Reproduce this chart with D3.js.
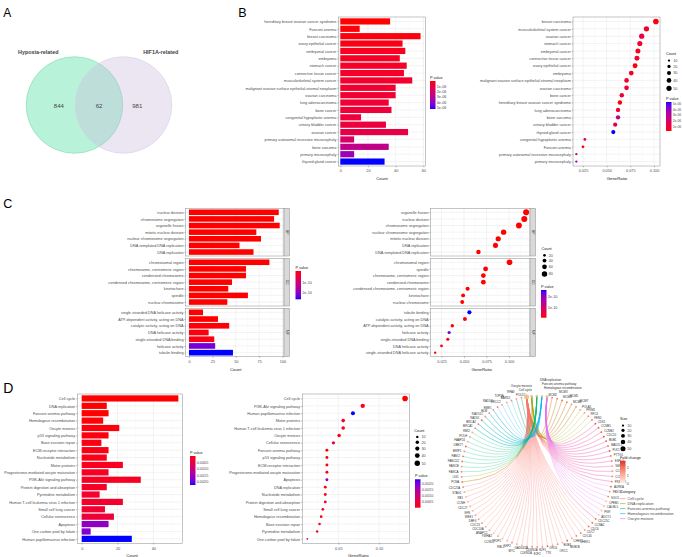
<!DOCTYPE html>
<html>
<head>
<meta charset="utf-8">
<script src="https://cdn.jsdelivr.net/npm/d3@7.9.0/dist/d3.min.js"></script>
<style>
  body { margin: 0; background: #fff; }
  svg { display: block; font-family: "Liberation Sans", Arial, sans-serif; }
</style>
</head>
<body>
<svg id="fig" width="682" height="557"></svg>
<script>
// ---------- data ----------
// A: venn
const vennSets = ['Hypoxia-related', 'HIF1A-related'];
const vennRegions = [844, 62, 981];

// B: disease ontology enrichment
const bTerms = [
  'hereditary breast ovarian cancer syndrome', 'Fanconi anemia', 'breast carcinoma',
  'ovary epithelial cancer', 'embryonal cancer', 'embryoma', 'stomach cancer',
  'connective tissue cancer', 'musculoskeletal system cancer',
  'malignant ovarian surface epithelial-stromal neoplasm', 'ovarian carcinoma',
  'lung adenocarcinoma', 'bone cancer', 'congenital hypoplastic anemia',
  'urinary bladder cancer', 'ovarian cancer', 'primary autosomal recessive microcephaly',
  'bone sarcoma', 'primary microcephaly', 'thyroid gland cancer'
];
const bCounts = [36, 14, 58, 45, 47, 43, 48, 46, 52, 40, 40, 35, 37, 15, 33, 49, 10, 35, 10, 32];
const bGeneRatio = [0.064, 0.025, 0.102, 0.080, 0.083, 0.076, 0.085, 0.082, 0.092, 0.071,
  0.071, 0.062, 0.066, 0.027, 0.059, 0.087, 0.018, 0.062, 0.018, 0.057];
const bPvalue = [1.0e-7, 1.6e-7, 2.2e-7, 3.0e-7, 4.8e-7, 5.4e-7, 5.9e-7, 6.4e-7, 6.9e-7, 7.4e-7,
  7.8e-7, 8.3e-7, 8.9e-7, 9.6e-7, 1.05e-6, 1.2e-6, 1.9e-6, 2.7e-6, 3.7e-6, 5.3e-6];
const bPTicks = [1e-6, 2e-6, 3e-6, 4e-6, 5e-6];

// C: GO enrichment, three ontologies
const goOntologies = ['BP', 'CC', 'MF'];
const cBPTerms = ['nuclear division', 'chromosome segregation', 'organelle fission',
  'mitotic nuclear division', 'nuclear chromosome segregation',
  'DNA-templated DNA replication', 'DNA replication'];
const cBPCounts = [96, 91, 97, 72, 77, 54, 69];
const cBPRatio = [0.117, 0.111, 0.119, 0.088, 0.094, 0.066, 0.085];
const cBPPvalue = [1e-30, 2e-29, 3e-28, 5e-26, 8e-26, 2e-22, 4e-22];
const cCCTerms = ['chromosomal region', 'chromosome, centromeric region', 'condensed chromosome',
  'condensed chromosome, centromeric region', 'kinetochore', 'spindle', 'nuclear chromosome'];
const cCCCounts = [86, 61, 61, 46, 42, 63, 41];
const cCCRatio = [0.1006, 0.0715, 0.0715, 0.054, 0.049, 0.074, 0.048];
const cCCPvalue = [1e-25, 3e-20, 5e-20, 2e-18, 6e-17, 8e-17, 1e-15];
const cMFTerms = ['single-stranded DNA helicase activity', 'ATP-dependent activity, acting on DNA',
  'catalytic activity, acting on DNA', 'DNA helicase activity', 'single-stranded DNA binding',
  'helicase activity', 'tubulin binding'];
const cMFCounts = [15, 31, 43, 21, 27, 28, 47];
const cMFRatio = [0.018, 0.037, 0.051, 0.025, 0.032, 0.0335, 0.056];
const cMFPvalue = [2e-13, 1e-12, 3e-12, 6e-12, 1e-11, 2.2e-10, 2.62e-10];
const cPTicks = [1e-10, 2e-10];

// D: KEGG enrichment
const dTerms = ['Cell cycle', 'DNA replication', 'Fanconi anemia pathway', 'Homologous recombination',
  'Oocyte meiosis', 'p53 signaling pathway', 'Base excision repair', 'ECM-receptor interaction',
  'Nucleotide metabolism', 'Motor proteins', 'Progesterone-mediated oocyte maturation',
  'PI3K-Akt signaling pathway', 'Protein digestion and absorption', 'Pyrimidine metabolism',
  'Human T-cell leukemia virus 1 infection', 'Small cell lung cancer', 'Cellular senescence',
  'Apoptosis', 'One carbon pool by folate', 'Human papillomavirus infection'];
const dCounts = [54, 14, 15, 12, 21, 15, 11, 15, 14, 23, 15, 33, 14, 10, 23, 13, 18, 15, 5, 28];
const dGeneRatio = [0.132, 0.034, 0.036, 0.029, 0.051, 0.036, 0.027, 0.036, 0.034, 0.056,
  0.036, 0.080, 0.034, 0.024, 0.056, 0.031, 0.044, 0.036, 0.012, 0.068];
const dPvalue = [1e-9, 2e-6, 5e-6, 2e-5, 4e-5, 6e-5, 8e-5, 1e-4, 1.2e-4, 1.4e-4, 1.6e-4,
  1.8e-4, 2.0e-4, 2.3e-4, 2.6e-4, 3.0e-4, 3.5e-4, 1.73e-3, 1.84e-3, 2.3e-3];
const dPTicks = [0.0005, 0.0010, 0.0015, 0.0020];

// D: gene-concept network
const cnetCategories = ['Cell cycle', 'DNA replication', 'Fanconi anemia pathway',
  'Homologous recombination', 'Oocyte meiosis'];
const cnetCategorySize = [54, 14, 15, 12, 21];
const cnetCategoryColors = ['#F8766D', '#A3A500', '#00BF7D', '#00B0F6', '#E76BF3'];
const cnetGenes = ['MCM2', 'MCM3', 'MCM4', 'MCM5', 'MCM6', 'MCM7', 'POLA1', 'PRIM1', 'RFC4', 'FEN1',
  'CDK1', 'CCNB1', 'CCNB2', 'CDC20', 'BUB1', 'MAD2L1', 'PLK1', 'PTTG1', 'ESPL1', 'SMC1B',
  'CCNE1', 'CCNE2', 'PKMYT1', 'AURKA', 'FBXO5', 'SGO1', 'CPEB1', 'CALML5', 'PGR', 'ADCY1',
  'CDC25C', 'CCNA2', 'CDC6', 'CDC7', 'CDC45', 'CHEK1', 'CHEK2', 'BUB1B', 'BUB3', 'ORC1',
  'ORC6', 'TTK', 'E2F1', 'E2F2', 'CDKN2A', 'CDKN1A', 'GADD45A', 'MYC', 'SKP2', 'RBL1',
  'TFDP1', 'CCND1', 'YWHAZ', 'ANAPC1', 'CDC14A', 'CDC23', 'DBF4', 'WEE1', 'SFN', 'CDC27',
  'CCNH', 'RB1', 'STAG1', 'CDC25A', 'PCNA', 'LIG1', 'FANCA', 'FANCB', 'FANCD2', 'FANCI',
  'BRIP1', 'UBE2T', 'FAAP24', 'POLH', 'RMI2', 'BRCA1', 'BRCA2', 'RAD51', 'RAD51C', 'BLM',
  'EME1', 'RAD54L', 'XRCC2', 'TOP3A', 'BARD1', 'RPA3', 'POLD1'];
// membership codes: C cell cycle, D DNA replication, F Fanconi, H homologous recomb., O oocyte meiosis
const cnetGeneCats = ['CD', 'CD', 'CD', 'CD', 'CD', 'CD', 'D', 'D', 'D', 'D',
  'CO', 'CO', 'CO', 'CO', 'CO', 'CO', 'CO', 'CO', 'CO', 'CO',
  'CO', 'CO', 'CO', 'O', 'O', 'O', 'O', 'O', 'O', 'O',
  'CO', 'C', 'C', 'C', 'C', 'C', 'C', 'C', 'C', 'C',
  'C', 'C', 'C', 'C', 'C', 'C', 'C', 'C', 'C', 'C',
  'C', 'C', 'C', 'C', 'C', 'C', 'C', 'C', 'C', 'C',
  'C', 'C', 'C', 'C', 'CD', 'D', 'F', 'F', 'F', 'F',
  'F', 'F', 'F', 'F', 'F', 'FH', 'FH', 'FH', 'FH', 'FH',
  'FH', 'H', 'H', 'H', 'H', 'DH', 'DH'];
const cnetFoldChange = [1.9, 1.6, 2.1, 1.8, 1.5, 1.7, 1.3, 1.4, 1.6, 2.0,
  2.3, 2.2, 2.4, 2.6, 2.2, 1.9, 2.5, 1.8, 1.7, 1.2,
  1.4, 1.6, 1.9, 2.1, 1.5, 1.8, 0.9, 1.1, 1.0, 0.8,
  2.0, 2.2, 1.9, 1.4, 2.0, 1.8, 1.2, 2.3, 1.1, 1.6,
  1.3, 2.1, 1.7, 1.5, 1.9, 0.9, 1.0, 1.2, 1.6, 1.1,
  1.0, 1.3, 0.8, 1.2, 1.1, 1.4, 1.5, 1.3, 1.0, 1.2,
  1.1, 0.9, 1.3, 1.7, 1.8, 1.5, 1.6, 1.4, 1.9, 2.0,
  1.7, 2.2, 1.1, 1.3, 1.2, 1.6, 1.8, 2.1, 1.5, 1.7,
  1.4, 1.9, 1.3, 1.2, 1.6, 1.4, 1.5];
const sizeBreaks = [10, 20, 30, 40, 50];
const cSizeBreaks = [20, 40, 60, 80];

// ---------- helpers ----------
const FONT = '"Liberation Sans", Arial, sans-serif';
const TXT = 3.8;
const svg = d3.select('#fig');
const defs = svg.append('defs');
let gradCount = 0;

const pColor = (values) => d3.scaleLinear()
  .domain(d3.extent(values))
  .range(['#ff0000', '#0000ff'])
  .interpolate(d3.interpolateLab)
  .clamp(true);

const sci = (d) => d.toExponential(0).replace(/e-(\d)$/, 'e-0$1');

function tidyAxis(sel) {
  sel.attr('font-size', TXT).attr('font-family', FONT);
  sel.select('.domain').remove();
  sel.selectAll('.tick line').attr('stroke', '#333').attr('stroke-width', 0.35);
  sel.selectAll('.tick text').attr('fill', '#4d4d4d');
}

function panelBase(terms, x0, x1, y0, y1, xScale, majors, minors) {
  const y = d3.scalePoint().domain(terms).range([y0, y1]).padding(0.6);
  const g = svg.append('g');
  g.append('rect').attr('x', x0).attr('y', y0).attr('width', x1 - x0).attr('height', y1 - y0).attr('fill', '#fff');
  g.selectAll(null).data(minors).join('line')
    .attr('x1', (d) => xScale(d)).attr('x2', (d) => xScale(d)).attr('y1', y0).attr('y2', y1)
    .attr('stroke', '#f2f2f2').attr('stroke-width', 0.3);
  g.selectAll(null).data(majors).join('line')
    .attr('x1', (d) => xScale(d)).attr('x2', (d) => xScale(d)).attr('y1', y0).attr('y2', y1)
    .attr('stroke', '#e4e4e4').attr('stroke-width', 0.45);
  g.selectAll(null).data(terms).join('line')
    .attr('x1', x0).attr('x2', x1).attr('y1', (d) => y(d)).attr('y2', (d) => y(d))
    .attr('stroke', '#e4e4e4').attr('stroke-width', 0.45);
  g.append('g').attr('transform', `translate(${x0},0)`)
    .call(d3.axisLeft(y).tickSize(1.2).tickPadding(1))
    .call(tidyAxis);
  return { g, y };
}

function frame(x0, y0, x1, y1) {
  svg.append('rect').attr('x', x0).attr('y', y0).attr('width', x1 - x0).attr('height', y1 - y0)
    .attr('fill', 'none').attr('stroke', '#8c8c8c').attr('stroke-width', 0.5);
}

function xAxis(scale, ticks, fmt, yPos, title, titleX) {
  svg.append('g').attr('transform', `translate(0,${yPos})`)
    .call(d3.axisBottom(scale).tickValues(ticks).tickFormat(fmt).tickSize(1.2).tickPadding(2.5))
    .call(tidyAxis);
  svg.append('text').attr('x', titleX).attr('y', yPos + 13.8).attr('text-anchor', 'middle')
    .attr('font-size', 4.3).attr('fill', '#222').text(title);
}

function strip(x, y0, y1, label) {
  svg.append('rect').attr('x', x).attr('y', y0).attr('width', 5.5).attr('height', y1 - y0)
    .attr('fill', '#d9d9d9').attr('stroke', '#8c8c8c').attr('stroke-width', 0.5);
  svg.append('text').attr('transform', `translate(${x + 2.75},${(y0 + y1) / 2}) rotate(90)`)
    .attr('text-anchor', 'middle').attr('dy', '0.35em').attr('font-size', 3.4).attr('fill', '#1a1a1a').text(label);
}

function colorbar(x, top, h, scale, ticks, fmt, title, blueTop, labelSize = TXT) {
  const [lo, hi] = scale.domain();
  const id = `grad${gradCount++}`;
  const grad = defs.append('linearGradient').attr('id', id)
    .attr('x1', 0).attr('x2', 0).attr('y1', 0).attr('y2', 1);
  d3.range(0, 1.0001, 0.05).forEach((t) => {
    const v = blueTop ? hi - t * (hi - lo) : lo + t * (hi - lo);
    grad.append('stop').attr('offset', t).attr('stop-color', scale(v));
  });
  svg.append('text').attr('x', x).attr('y', top - 2.2).attr('font-size', TXT).attr('fill', '#222').text(title);
  svg.append('rect').attr('x', x).attr('y', top).attr('width', 5.5).attr('height', h).attr('fill', `url(#${id})`);
  const pos = d3.scaleLinear().domain(blueTop ? [hi, lo] : [lo, hi]).range([top, top + h]);
  svg.append('g').attr('transform', `translate(${x + 5.5},0)`)
    .call(d3.axisRight(pos).tickValues(ticks).tickFormat(fmt).tickSize(0).tickPadding(1.2))
    .call(tidyAxis)
    .attr('font-size', labelSize);
}

function sizeLegend(x, baseline, title, values, r, gap) {
  svg.append('text').attr('x', x).attr('y', baseline).attr('font-size', TXT).attr('fill', '#222').text(title);
  let cy = baseline + 5.3;
  values.forEach((v, i) => {
    if (i > 0) cy += r(values[i - 1]) + r(v) + gap;
    svg.append('circle').attr('cx', x + 3).attr('cy', cy).attr('r', r(v)).attr('fill', '#000');
    svg.append('text').attr('x', x + 7.2).attr('y', cy).attr('dy', '0.35em')
      .attr('font-size', TXT).attr('fill', '#4d4d4d').text(v);
  });
}

function panelLetter(letter, x, y, size) {
  svg.append('text').attr('x', x).attr('y', y).attr('font-size', size).attr('fill', '#000').text(letter);
}

function barPanel(terms, counts, pvals, colorScale, x0, x1, y0, y1, xScale, majors, minors) {
  const { g, y } = panelBase(terms, x0, x1, y0, y1, xScale, majors, minors);
  const bw = y.step() * 0.84;
  g.selectAll(null).data(terms).join('rect')
    .attr('x', xScale(0)).attr('y', (d) => y(d) - bw / 2)
    .attr('width', (d, i) => xScale(counts[i]) - xScale(0)).attr('height', bw)
    .attr('fill', (d, i) => colorScale(pvals[i]));
  frame(x0, y0, x1, y1);
}

function dotPanel(terms, counts, ratios, pvals, colorScale, rScale, x0, x1, y0, y1, xScale, majors, minors) {
  const order = d3.range(terms.length).sort((a, b) => ratios[b] - ratios[a] || a - b);
  const { g, y } = panelBase(order.map((i) => terms[i]), x0, x1, y0, y1, xScale, majors, minors);
  g.selectAll(null).data(order).join('circle')
    .attr('cx', (i) => xScale(ratios[i])).attr('cy', (i) => y(terms[i]))
    .attr('r', (i) => rScale(counts[i]))
    .attr('fill', (i) => colorScale(pvals[i]));
  frame(x0, y0, x1, y1);
}

// ---------- A: venn ----------
panelLetter('A', 3.3, 16.7, 12);
const vx = d3.scaleLinear().domain([0, 1]).range([74.5, 123.5]);
const vR = (vx(1) - vx(0)) * 0.985;
const vennFill = ['rgba(78,224,160,0.4)', 'rgba(200,184,220,0.35)'];
const vennStroke = ['#7ad9ae', '#d8cde6'];
vennSets.forEach((name, i) => {
  svg.append('circle').attr('cx', vx(i)).attr('cy', 105).attr('r', vR)
    .attr('fill', vennFill[i]).attr('stroke', vennStroke[i]).attr('stroke-width', 0.6);
});
vennSets.forEach((name, i) => {
  svg.append('text').attr('x', vx(i === 0 ? -0.74 : 1.76)).attr('y', 53.5).attr('text-anchor', 'middle')
    .attr('font-size', 5.4).attr('font-weight', 'bold').attr('fill', '#444').text(name);
});
[-0.32, 0.5, 1.28].forEach((pos, i) => {
  svg.append('text').attr('x', vx(pos)).attr('y', 106).attr('dy', '0.35em').attr('text-anchor', 'middle')
    .attr('font-size', 6).attr('fill', '#444').text(vennRegions[i]);
});

// ---------- B ----------
panelLetter('B', 238.3, 16.7, 12.5);
const bColor = pColor(bPvalue);
const bx = d3.scaleLinear().domain([0, 60]).range([340.3, 423.3]);
barPanel(bTerms, bCounts, bPvalue, bColor, 338.5, 425.5, 17, 166, bx, [0, 20, 40, 60], [10, 30, 50]);
xAxis(bx, [0, 20, 40, 60], d3.format('d'), 166, 'Count', 382);
colorbar(430, 81, 28, bColor, bPTicks, sci, 'P value', false);

const bxr = d3.scaleLinear().domain([0.025, 0.1]).range([583, 654]);
const bR = d3.scaleSqrt().domain([0, 58]).range([0, 2.8]);
dotPanel(bTerms, bCounts, bGeneRatio, bPvalue, bColor, bR, 573, 660, 17, 166, bxr,
  [0.025, 0.05, 0.075, 0.1], [0.0375, 0.0625, 0.0875]);
xAxis(bxr, [0.025, 0.05, 0.075, 0.1], d3.format('.3f'), 166, 'GeneRatio', 617);
sizeLegend(666, 55.3, 'Count', sizeBreaks, bR, 3);
colorbar(666, 102, 29, bColor, bPTicks, sci, 'P value', true, 3.3);

// ---------- C ----------
panelLetter('C', 3.3, 208, 12.5);
const cColor = pColor([...cBPPvalue, ...cCCPvalue, ...cMFPvalue]);
const facetY = [[208.3, 256], [258.3, 306], [308.3, 356.7]];
const cTermSets = [cBPTerms, cCCTerms, cMFTerms];
const cCountSets = [cBPCounts, cCCCounts, cMFCounts];
const cRatioSets = [cBPRatio, cCCRatio, cMFRatio];
const cPSets = [cBPPvalue, cCCPvalue, cMFPvalue];

const cx = d3.scaleLinear().domain([0, 100]).range([189, 282.5]);
goOntologies.forEach((ont, k) => {
  barPanel(cTermSets[k], cCountSets[k], cPSets[k], cColor, 185.7, 284, facetY[k][0], facetY[k][1],
    cx, [0, 25, 50, 75, 100], [12.5, 37.5, 62.5, 87.5]);
  strip(284, facetY[k][0], facetY[k][1], ont);
});
xAxis(cx, [0, 25, 50, 75, 100], d3.format('d'), 356.7, 'Count', 235.7);
colorbar(295.5, 271, 28.3, cColor, cPTicks, sci, 'P value', false);

const cxr = d3.scaleLinear().domain([0.025, 0.1]).range([441.5, 509]);
const cR = d3.scaleSqrt().domain([0, 97]).range([0, 3]);
goOntologies.forEach((ont, k) => {
  dotPanel(cTermSets[k], cCountSets[k], cRatioSets[k], cPSets[k], cColor, cR, 430.7, 530,
    facetY[k][0], facetY[k][1], cxr, [0.025, 0.05, 0.075, 0.1], [0.0375, 0.0625, 0.0875, 0.1125]);
  strip(530, facetY[k][0], facetY[k][1], ont);
});
xAxis(cxr, [0.025, 0.05, 0.075, 0.1], d3.format('.3f'), 356.7, 'GeneRatio', 481.7);
sizeLegend(541.5, 250, 'Count', cSizeBreaks, cR, 2);
colorbar(541, 290, 27.7, cColor, cPTicks, sci, 'P value', true);

// ---------- D ----------
panelLetter('D', 3.3, 392.7, 14);
const dColor = pColor(dPvalue);
const dx = d3.scaleLinear().domain([0, 40]).range([81.7, 153.3]);
barPanel(dTerms, dCounts, dPvalue, dColor, 77.3, 182.7, 394, 543.3, dx, [0, 20, 40], [10, 30, 50]);
xAxis(dx, [0, 20, 40], d3.format('d'), 543.3, 'Count', 132);
colorbar(190, 456, 29, dColor, dPTicks, d3.format('.4f'), 'P value', false);

const dxr = d3.scaleLinear().domain([0.05, 0.1]).range([338.3, 379]);
const dR = d3.scaleSqrt().domain([0, 54]).range([0, 2.8]);
dotPanel(dTerms, dCounts, dGeneRatio, dPvalue, dColor, dR, 302.3, 409.3, 394, 543.3, dxr,
  [0.05, 0.1], [0.025, 0.075, 0.125]);
xAxis(dxr, [0.05, 0.1], d3.format('.2f'), 543.3, 'GeneRatio', 358.3);
sizeLegend(414.3, 431.6, 'Count', sizeBreaks, dR, 2.5);
colorbar(415, 479.3, 28.4, dColor, dPTicks, d3.format('.4f'), 'P value', true);

// ---------- D: cnet plot ----------
const netCx = 537, netCy = 471.5, netR = 75.5;
const nodeNames = [...cnetCategories, ...cnetGenes];
const angle = d3.scaleLinear().domain([0, nodeNames.length]).range([-8, 352]);
const nodePos = (i) => {
  const a = angle(i) * Math.PI / 180;
  return [netCx + netR * Math.sin(a), netCy - netR * Math.cos(a), a];
};
const catCode = 'CDFHO';
const netSize = d3.scaleSqrt().domain([0, 54]).range([0, 2.6]);
const foldColor = d3.scaleLinear().domain([0, 2.8]).range(['#fff0ec', '#de2d26']).interpolate(d3.interpolateLab);

const edges = [];
cnetGenes.forEach((gene, gi) => {
  cnetGeneCats[gi].split('').forEach((code) => edges.push({ gene: gi, cat: catCode.indexOf(code) }));
});
edges.sort((a, b) => a.cat - b.cat);
const edgeLayer = svg.append('g').attr('fill', 'none');
edgeLayer.selectAll(null).data(edges).join('path')
  .attr('d', (e) => {
    const [x0, y0] = nodePos(e.cat);
    const [x1, y1] = nodePos(cnetCategories.length + e.gene);
    const p = d3.path();
    p.moveTo(x0, y0);
    p.quadraticCurveTo(netCx, netCy + 4, x1, y1);
    return p.toString();
  })
  .attr('stroke', (e) => cnetCategoryColors[e.cat])
  .attr('stroke-opacity', 0.6)
  .attr('stroke-width', 0.45);

cnetGenes.forEach((gene, gi) => {
  const [x, y, a] = nodePos(cnetCategories.length + gi);
  svg.append('circle').attr('cx', x).attr('cy', y).attr('r', 0.9).attr('fill', foldColor(cnetFoldChange[gi]));
  const s = Math.sin(a), c = Math.cos(a);
  // stagger labels where they run horizontally into each other
  const rr = netR + 3 + (Math.abs(s) < 0.62 && gi % 2 ? 4.2 : 0);
  svg.append('text')
    .attr('x', netCx + rr * s).attr('y', netCy - rr * c)
    .attr('dy', '0.35em')
    .attr('text-anchor', s > 0.25 ? 'start' : s < -0.25 ? 'end' : 'middle')
    .attr('font-size', 2.9).attr('fill', '#333').text(gene);
});

// category hubs sit at the top of the ring; their labels are stacked just above it
const catLabelSpots = [[532, 391, 'end'], [540, 381, 'start'], [542, 385, 'start'], [544, 389, 'start'], [532, 387, 'end']];
cnetCategories.forEach((cat, i) => {
  const [x, y] = nodePos(i);
  svg.append('circle').attr('cx', x).attr('cy', y).attr('r', netSize(cnetCategorySize[i]))
    .attr('fill', '#E5C494').attr('fill-opacity', 0.9);
  const [lx, ly, anchor] = catLabelSpots[i];
  svg.append('text')
    .attr('x', lx).attr('y', ly)
    .attr('text-anchor', anchor)
    .attr('font-size', 3.1).attr('fill', '#333').text(cat);
});

// cnet legends
sizeLegend(620, 420.3, 'Size', sizeBreaks, netSize, 2);
colorbar(620, 460.7, 22.6, foldColor, [0, 1, 2], d3.format('d'), 'Fold change', true);
svg.append('text').attr('x', 620).attr('y', 492.6).attr('font-size', TXT).attr('fill', '#222').text('Category');
cnetCategories.forEach((cat, i) => {
  const yy = 498.6 + i * 5;
  svg.append('line').attr('x1', 620).attr('x2', 625.5).attr('y1', yy).attr('y2', yy)
    .attr('stroke', cnetCategoryColors[i]).attr('stroke-width', 0.6);
  svg.append('text').attr('x', 627.5).attr('y', yy).attr('dy', '0.35em')
    .attr('font-size', TXT).attr('fill', '#4d4d4d').text(cat);
});
</script>
</body>
</html>
